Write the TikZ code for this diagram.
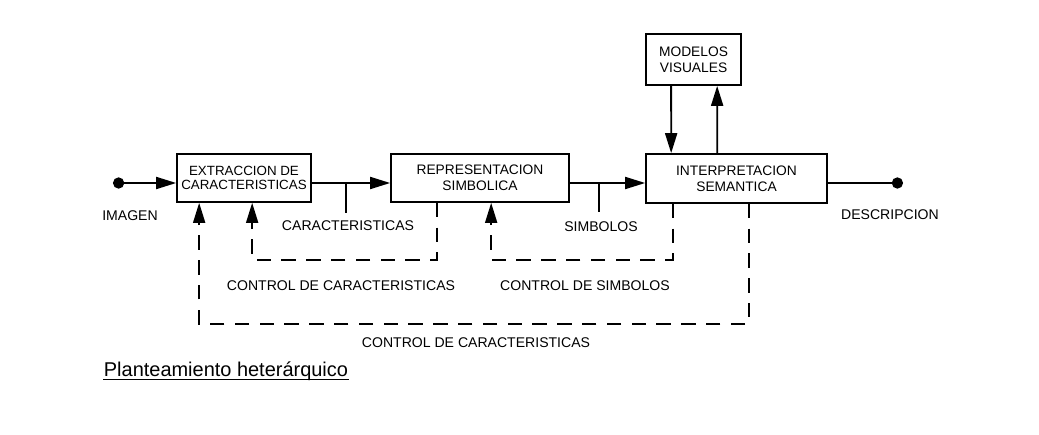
\documentclass[tikz,border=0pt]{standalone}
\usepackage{fontspec}
\setmainfont{Liberation Sans}
\usetikzlibrary{arrows.meta, positioning}

\begin{document}
\begin{tikzpicture}[block/.style={
        rectangle,
        draw,
        line width=1.2pt,
        align=center,
        inner sep=1pt,
        minimum height=1.2cm,
        font=\fontsize{9.8}{11.3}\selectfont
      },
      lbl/.style={inner sep=0pt, font=\fontsize{10}{11}\selectfont},
      ctrl/.style={line width=1.2pt, dash pattern=on 3.6mm off 2.6mm},
      >={Triangle[length=5mm,width=3mm]},
      line width=1.3pt]

    \useasboundingbox (0,0) rectangle (25.975,10.85);

    \node[block,minimum width=3.35cm,font=\fontsize{9.5}{9.8}\selectfont] (extr) at (6.1,6.4) {EXTRACCION DE\\CARACTERISTICAS};
    \node[block,minimum width=4.45cm] (repr) at (12.0,6.4) {REPRESENTACION\\SIMBOLICA};
    \node[block,minimum width=4.525cm,minimum height=1.225cm] (interp) at (18.4125,6.3875) {INTERPRETACION\\SEMANTICA};
    \node[block,minimum width=2.375cm,minimum height=1.275cm] (model) at (17.3375,9.3625) {MODELOS\\VISUALES};

    \coordinate (img) at (2.825,6.275);
    \coordinate (desc) at (22.575,6.275);
    \coordinate (t1) at (8.65,6.275);
    \coordinate (t2) at (14.975,6.275);

    % main chain
    \draw[{Circle[length=2.8mm]}->] (img) -- (img -| extr.west);
    \draw[->] (extr.east |- img) -- (repr.west |- img);
    \draw[->] (repr.east |- img) -- (interp.west |- img);
    \draw[-{Circle[length=2.8mm]}] (interp.east |- img) -- (desc);
    \draw (t1) -- ++(0,-0.75);
    \draw (t2) -- ++(0,-0.725);

    % models
    \draw[->] ([xshift=0.65cm]model.south west) -- ([xshift=0.65cm]interp.north west);
    \draw[->] ([xshift=1.8cm]interp.north west) -- ([xshift=1.8cm]model.south west);

    % control loops
    \draw[ctrl,->] ([xshift=1.175cm]repr.south west) -- ++(0,-1.425) -| ([xshift=1.9cm]extr.south west);
    \draw[ctrl,->] ([xshift=0.7cm]interp.south west) -- ++(0,-1.4) -| ([xshift=2.525cm]repr.south west);
    \draw[ctrl,->] ([xshift=2.6cm]interp.south west) -- ++(0,-3.0) -| ([xshift=0.575cm]extr.south west);

    \node[lbl] (limg) at (3.25,5.45) {IMAGEN};
    \node[lbl] (lcar) at (8.7,5.2) {CARACTERISTICAS};
    \node[lbl] (lsim) at (15.025,5.175) {SIMBOLOS};
    \node[lbl] (ldesc) at (22.25,5.475) {DESCRIPCION};
    \node[lbl] (lctc) at (8.525,3.7) {CONTROL DE CARACTERISTICAS};
    \node[lbl] (lcts) at (14.625,3.7) {CONTROL DE SIMBOLOS};
    \node[lbl] (lctg) at (11.9,2.275) {CONTROL DE CARACTERISTICAS};

    \node[inner sep=0pt,anchor=base west,font=\fontsize{14.2}{15}\selectfont] (title) at (2.575,1.45) {Planteamiento heterárquico};
    \draw[line width=0.9pt] ([yshift=-0.09cm]title.base west) -- ([yshift=-0.09cm]title.base east);
  \end{tikzpicture}
\end{document}
